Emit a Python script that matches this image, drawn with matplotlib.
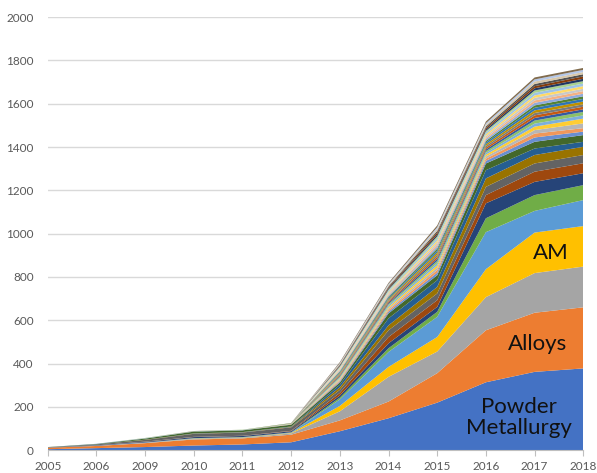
import numpy as np
import matplotlib
matplotlib.use("Agg")
import matplotlib.pyplot as plt

plt.rcParams['font.family'] = ['Lato', 'DejaVu Sans']

years = ['2005', '2006', '2009', '2010', '2011', '2012',
         '2013', '2014', '2015', '2016', '2017', '2018']

# stacked layers, bottom to top (values per year)
powder_metallurgy = [5, 10, 15, 22, 27, 37, 88, 148, 220, 314, 362, 378]
alloys = [7, 10, 18, 28, 28, 35, 50, 77, 136, 240, 273, 282]
gray_1 = [0, 1, 2, 3, 3, 6, 42, 114, 100, 153, 183, 188]
am = [0, 0, 0, 1, 1, 2, 25, 46, 67, 129, 187, 187]
blue_1 = [0, 0, 1, 1, 1, 2, 30, 69, 93, 171, 100, 120]
green_1 = [0, 0, 0, 1, 1, 1, 8, 17, 23, 64, 73, 69]
navy_1 = [1, 2, 3, 5, 5, 5, 10, 23, 23, 69, 61, 55]
brown_1 = [0, 0, 1, 1, 1, 2, 12, 29, 31, 38, 47, 46]
dgray_1 = [1, 4, 8, 14, 15, 16, 14, 31, 31, 38, 38, 38]
olive_1 = [0, 0, 1, 1, 1, 2, 12, 23, 30, 39, 39, 38]
blue_2 = [0, 0, 0, 1, 1, 2, 12, 32, 31, 38, 30, 23]
dgreen_1 = [1, 2, 5, 8, 8, 8, 10, 23, 23, 31, 31, 31]
other = [
    [0, 1, 1, 1, 1, 1, 5, 8, 12, 12, 20, 16],
    [0, 0, 0, 0, 0, 1, 5, 8, 12, 10, 18, 16],
    [0, 0, 1, 0, 1, 1, 5, 7, 11, 10, 16, 22],
    [0, 0, 0, 0, 0, 1, 4, 7, 11, 9, 16, 22],
    [0, 0, 0, 0, 0, 1, 4, 7, 10, 8, 14, 15],
    [0, 0, 1, 1, 1, 1, 4, 6, 10, 8, 14, 16],
    [0, 0, 0, 0, 0, 0, 4, 6, 10, 8, 12, 12],
    [0, 0, 0, 0, 0, 0, 4, 6, 9, 8, 12, 12],
    [0, 0, 0, 0, 0, 0, 4, 6, 10, 8, 11, 11],
    [0, 0, 0, 0, 0, 0, 4, 6, 10, 8, 12, 13],
    [0, 0, 0, 0, 0, 0, 4, 6, 9, 8, 12, 12],
    [0, 0, 0, 0, 0, 1, 4, 5, 9, 7, 11, 12],
    [0, 0, 0, 0, 0, 0, 4, 5, 10, 8, 12, 12],
    [0, 0, 0, 0, 0, 0, 4, 5, 9, 7, 11, 12],
    [0, 0, 0, 0, 0, 0, 4, 6, 10, 8, 12, 11],
    [0, 0, 0, 0, 0, 0, 4, 5, 9, 8, 11, 12],
    [0, 0, 0, 0, 0, 0, 4, 6, 10, 8, 12, 12],
    [0, 0, 0, 0, 0, 0, 3, 5, 9, 7, 11, 11],
    [0, 0, 0, 0, 0, 0, 3, 5, 8, 7, 10, 11],
    [0, 0, 0, 0, 0, 0, 3, 5, 9, 7, 10, 11],
    [0, 0, 0, 0, 0, 0, 3, 5, 8, 7, 10, 10],
    [0, 0, 0, 0, 0, 0, 4, 6, 9, 8, 11, 10],
    [0, 0, 0, 0, 0, 0, 3, 5, 8, 7, 10, 10],
    [0, 0, 0, 1, 0, 1, 4, 5, 8, 8, 9, 9],
]

main_colors = ['#4472C4', '#ED7D31', '#A5A5A5', '#FFC000', '#5B9BD5', '#70AD47',
               '#264478', '#9E480E', '#636363', '#997300', '#255E91', '#43682B']
other_colors = ['#698ED0', '#F1975A', '#B7B7B7', '#FFCD33', '#7CAFDD', '#8CC168',
                '#335AA1', '#C65911', '#7B7B7B', '#BF9000', '#2E75B6', '#548235',
                '#8FAADC', '#F4B183', '#C9C9C9', '#FFD966', '#9DC3E6', '#A9D18E',
                '#203864', '#843C0C', '#525252', '#D9C8A9', '#B4C7E7', '#806B4D']

layers = [powder_metallurgy, alloys, gray_1, am, blue_1, green_1,
          navy_1, brown_1, dgray_1, olive_1, blue_2, dgreen_1] + other
colors = main_colors + other_colors

fig = plt.figure(figsize=(5.97, 4.73), dpi=100)
ax = fig.add_axes([0.080, 0.048, 0.897, 0.916])

x = np.arange(len(years))
ax.stackplot(x, *layers, colors=colors, linewidth=0)

ax.set_xlim(0, len(years) - 1)
ax.set_ylim(0, 2000)
ax.set_yticks(range(0, 2001, 200))
ax.set_xticks(x)
ax.set_xticklabels(years)
ax.grid(axis='y', color='#D9D9D9', linewidth=1)
ax.set_axisbelow(True)

for s in ['top', 'right', 'left']:
    ax.spines[s].set_visible(False)
ax.spines['bottom'].set_color('#BFBFBF')
ax.tick_params(axis='y', length=0, pad=10, labelsize=8.5, labelcolor='#595959')
ax.tick_params(axis='x', length=4, color='#BFBFBF', pad=4, labelsize=8.5,
               labelcolor='#595959')

ax.text(10.33, 910, 'AM', fontsize=16, ha='center', va='center', color='#111111')
ax.text(10.06, 490, 'Alloys', fontsize=16, ha='center', va='center', color='#111111')
ax.text(9.68, 152, 'Powder\nMetallurgy', fontsize=16, ha='center', va='center',
        color='#111111', linespacing=1.05)

fig.savefig('out.png', dpi=100)
